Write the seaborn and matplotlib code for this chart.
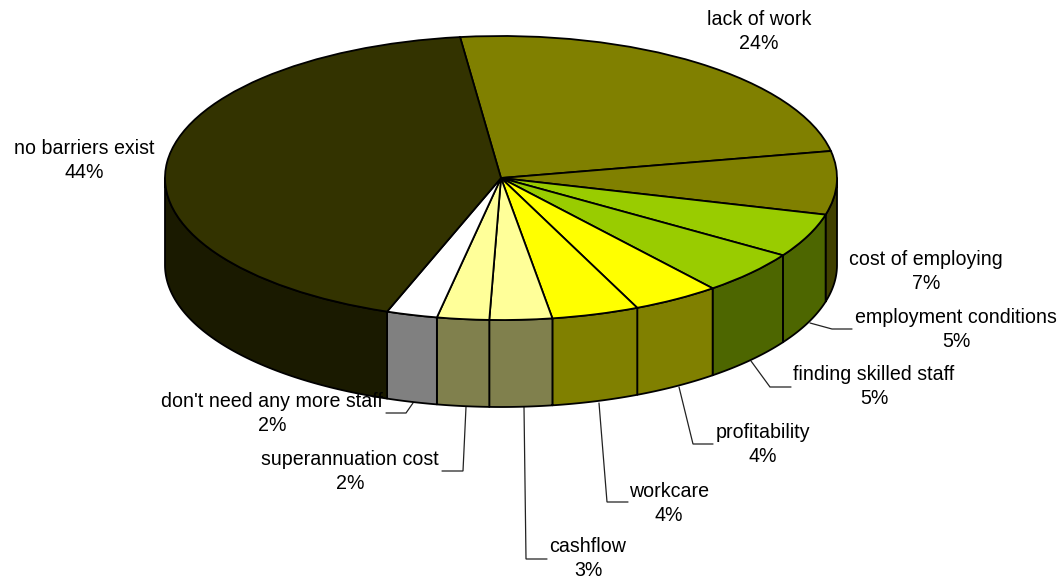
import numpy as np
import matplotlib
matplotlib.use("Agg")
import matplotlib.pyplot as plt
import seaborn as sns

# data (clockwise from the top)
categories = ["lack of work", "cost of employing", "employment conditions",
              "finding skilled staff", "profitability", "workcare", "cashflow",
              "superannuation cost", "don't need any more staff", "no barriers exist"]
shares = [23.9, 7.2, 5.0, 5.0, 4.2, 4.2, 3.0, 2.5, 2.45, 42.55]
pct_labels = [24, 7, 5, 5, 4, 4, 3, 2, 2, 44]
top_colors = ["#808000", "#808000", "#99CC00", "#99CC00", "#FFFF00", "#FFFF00",
              "#FFFF99", "#FFFF99", "#FFFFFF", "#333300"]
side_colors = ["#404000", "#404000", "#4D6600", "#4D6600", "#808000", "#808000",
               "#80804D", "#80804D", "#808080", "#1A1A00"]

# layout, in picture pixels
W, H = 1063, 578
CX, CY, RX, RY, DEPTH = 501, 178, 336, 142, 87
START = 97
label_pos = [(759, 31.5), (926, 271.5), (956, 329.5), (874, 386.5), (763, 444.5), (669, 503.5),
             (588, 558.5), (350, 471.5), (272, 413.5), (84, 160.5)]
leaders = {
    "employment conditions": [(810, 323), (832, 329), (852, 329)],
    "finding skilled staff": [(751, 361), (770, 387), (791, 387)],
    "profitability": [(679, 387), (693, 444), (713, 444)],
    "workcare": [(599, 403), (607, 502), (628, 502)],
    "cashflow": [(524, 407), (526, 559), (547, 559)],
    "superannuation cost": [(466, 407), (463, 471), (442, 471)],
    "don't need any more staff": [(413, 403), (406, 413), (386, 413)],
}

sns.set_theme(style="white")
plt.rcParams["font.family"] = ["Liberation Sans", "DejaVu Sans"]


def px(x, y):
    return (x - CX) / RX, (CY - y) / RY


fig = plt.figure(figsize=(W / 100, H / 100), dpi=100, facecolor="white")
ax = fig.add_axes([0, 0, 1, 1])

# top surface
wedges, _ = ax.pie(shares, colors=sns.color_palette(top_colors), startangle=START,
                   counterclock=False, radius=1,
                   wedgeprops=dict(edgecolor="black", linewidth=1.3))
for w in wedges:
    w.set_zorder(5)
ax.set_aspect("auto")
ax.set_xlim(px(0, 0)[0], px(W, 0)[0])
ax.set_ylim(px(0, H)[1], px(0, 0)[1])

# side wall: the part of each slice that faces the viewer
d = DEPTH / RY
ends = START - np.cumsum(shares) * 3.6
starts = np.r_[START, ends[:-1]]
for a0, a1, col in zip(starts, ends, side_colors):
    hi, lo = a0 % 360, a1 % 360
    if lo > hi:
        hi += 360
    lo_c, hi_c = max(lo, 180), min(hi, 360)
    if hi_c <= lo_c:
        continue
    t = np.radians(np.linspace(lo_c, hi_c, 80))
    xs = np.r_[np.cos(t), np.cos(t[::-1])]
    ys = np.r_[np.sin(t), np.sin(t[::-1]) - d]
    ax.fill(xs, ys, facecolor=col, edgecolor="black", linewidth=1.3,
            joinstyle="round", zorder=3)

# labels and leader lines
for name, pct, pos in zip(categories, pct_labels, label_pos):
    x, y = px(*pos)
    ax.text(x, y, f"{name}\n{pct}%", ha="center", va="center", fontsize=14.1,
            color="black", linespacing=1.32, zorder=7)
    if name in leaders:
        pts = np.array([px(*p) for p in leaders[name]])
        ax.plot(pts[:, 0], pts[:, 1], color="#222222", lw=0.9, zorder=2,
                solid_joinstyle="miter")

fig.savefig("out.png", dpi=100, facecolor="white")
